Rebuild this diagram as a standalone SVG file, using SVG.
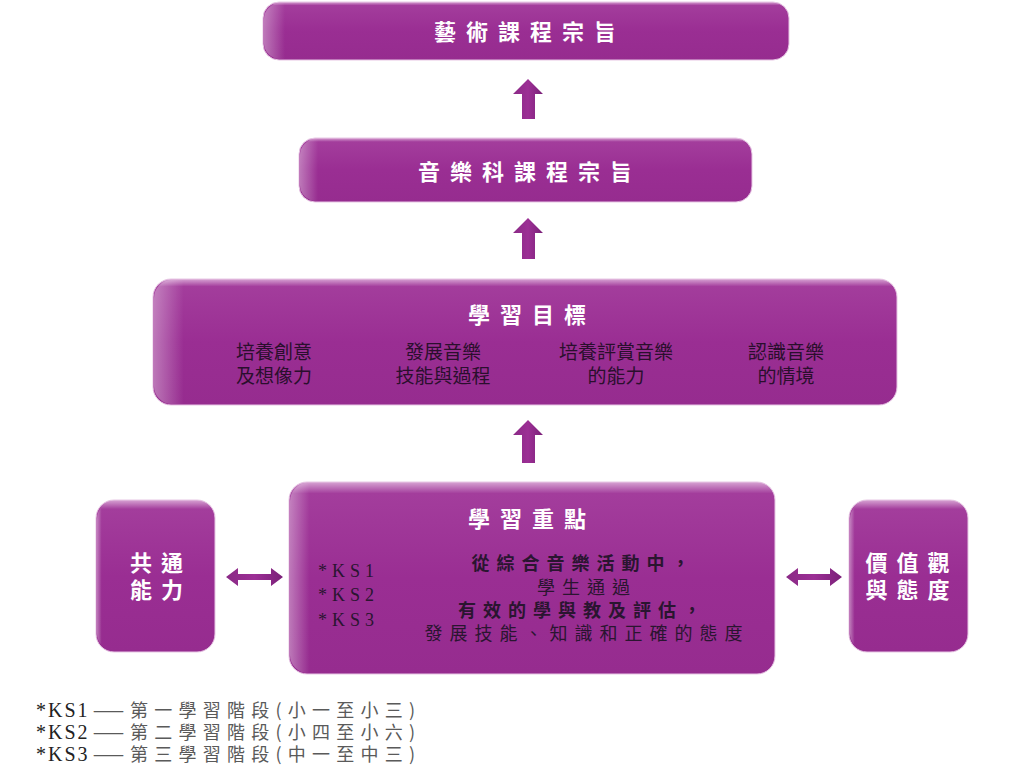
<svg xmlns="http://www.w3.org/2000/svg" width="1024" height="772" viewBox="0 0 1024 772">
<defs>
<linearGradient id="bg" x1="0" y1="0" x2="0" y2="1">
<stop offset="0" stop-color="#d7a3d3"/>
<stop offset="0.06" stop-color="#a33d9c"/>
<stop offset="0.5" stop-color="#9a2e93"/>
<stop offset="1" stop-color="#962c8f"/>
</linearGradient>
<linearGradient id="lg" x1="0" y1="0" x2="1" y2="0">
<stop offset="0" stop-color="#ffffff" stop-opacity="0.35"/>
<stop offset="0.04" stop-color="#ffffff" stop-opacity="0"/>
<stop offset="1" stop-color="#ffffff" stop-opacity="0"/>
</linearGradient>
<linearGradient id="ag" x1="0" y1="0" x2="1" y2="0">
<stop offset="0" stop-color="#8a2a86"/>
<stop offset="0.5" stop-color="#9c2f95"/>
<stop offset="1" stop-color="#7a2078"/>
</linearGradient>
<style>
.box{fill:url(#bg);stroke:#e7c6e4;stroke-width:1}
.hl{fill:url(#lg)}
.t{font-family:"Noto Sans CJK TC","Noto Sans CJK SC",sans-serif;fill:#ffffff;font-weight:bold;text-anchor:middle;font-size:22px;letter-spacing:10px}
.s{font-family:"Noto Sans CJK TC","Noto Sans CJK SC",sans-serif;fill:#ffffff;font-weight:bold;text-anchor:middle;font-size:22px;letter-spacing:9px}
.g{font-family:"Noto Sans CJK TC","Noto Sans CJK SC",sans-serif;fill:#2a0f2d;font-size:19px;text-anchor:middle}
.b{font-family:"Noto Sans CJK TC","Noto Sans CJK SC",sans-serif;fill:#2a1530;font-size:18px;text-anchor:middle;letter-spacing:7px}
.ks{font-family:"Liberation Serif",serif;fill:#2a1530;font-size:18px;letter-spacing:5px}
.f{font-family:"Noto Sans CJK TC","Noto Sans CJK SC",sans-serif;fill:#5a5a5a;font-size:18px}
.fk{font-family:"Liberation Serif",serif;fill:#222222;font-size:20px;letter-spacing:2px}
.arr{fill:url(#ag)}
</style>
</defs>

<g id="node-arts">
<rect class="box" x="263" y="2" width="526" height="58" rx="16"/>
<rect class="hl" x="264" y="3" width="524" height="56" rx="16"/>
<text class="t" x="530" y="40">藝術課程宗旨</text>
</g>

<g id="node-music">
<rect class="box" x="299" y="138" width="453" height="64" rx="16"/>
<rect class="hl" x="300" y="139" width="451" height="62" rx="16"/>
<text class="t" x="530" y="180">音樂科課程宗旨</text>
</g>

<g id="node-goals">
<rect class="box" x="153" y="279" width="744" height="126" rx="18"/>
<rect class="hl" x="154" y="280" width="742" height="124" rx="18"/>
<text class="t" x="532" y="323">學習目標</text>
<text class="g" x="274" y="359">培養創意</text>
<text class="g" x="274" y="383">及想像力</text>
<text class="g" x="443" y="359">發展音樂</text>
<text class="g" x="443" y="383">技能與過程</text>
<text class="g" x="616" y="359">培養評賞音樂</text>
<text class="g" x="616" y="383">的能力</text>
<text class="g" x="786" y="359">認識音樂</text>
<text class="g" x="786" y="383">的情境</text>
</g>

<g id="node-focus">
<rect class="box" x="289" y="482" width="486" height="192" rx="18"/>
<rect class="hl" x="290" y="483" width="484" height="190" rx="18"/>
<text class="t" x="532" y="527">學習重點</text>
<text class="ks" x="318" y="577">*KS1</text>
<text class="ks" x="318" y="601">*KS2</text>
<text class="ks" x="318" y="626">*KS3</text>
<text class="b" x="584" y="570" font-weight="bold">從綜合音樂活動中，</text>
<text class="b" x="587" y="594">學生通過</text>
<text class="b" x="583" y="617" font-weight="bold">有效的學與教及評估，</text>
<text class="b" x="587" y="640">發展技能、知識和正確的態度</text>
</g>

<g id="node-generic">
<rect class="box" x="96" y="500" width="119" height="152" rx="18"/>
<rect class="hl" x="97" y="501" width="117" height="150" rx="18"/>
<text class="s" x="161" y="571">共通</text>
<text class="s" x="161" y="598">能力</text>
</g>

<g id="node-values">
<rect class="box" x="849" y="500" width="119" height="152" rx="18"/>
<rect class="hl" x="850" y="501" width="117" height="150" rx="18"/>
<text class="s" x="912" y="571">價值觀</text>
<text class="s" x="912" y="598">與態度</text>
</g>

<g id="connectors">
<path class="arr" d="M528 79 L543 94 L535 94 L535 119 L522 119 L522 94 L513 94 Z"/>
<path class="arr" d="M528 218 L543 233 L535 233 L535 259 L522 259 L522 233 L513 233 Z"/>
<path class="arr" d="M528 420 L543 435 L535 435 L535 463 L522 463 L522 435 L513 435 Z"/>
<path class="arr" d="M226 577 L238 568 L238 574 L271 574 L271 568 L283 577 L271 586 L271 580 L238 580 L238 586 Z"/>
<path class="arr" d="M786 577 L798 568 L798 574 L830 574 L830 568 L842 577 L830 586 L830 580 L798 580 L798 586 Z"/>
</g>

<g id="legend">
<text class="fk" x="36" y="717">*KS1</text>
<text class="f" x="92" y="717" textLength="33" lengthAdjust="spacingAndGlyphs">—</text>
<text class="f" x="130" y="717" textLength="285" lengthAdjust="spacing">第一學習階段(小一至小三)</text>
<text class="fk" x="36" y="739">*KS2</text>
<text class="f" x="92" y="739" textLength="33" lengthAdjust="spacingAndGlyphs">—</text>
<text class="f" x="130" y="739" textLength="285" lengthAdjust="spacing">第二學習階段(小四至小六)</text>
<text class="fk" x="36" y="761">*KS3</text>
<text class="f" x="92" y="761" textLength="33" lengthAdjust="spacingAndGlyphs">—</text>
<text class="f" x="130" y="761" textLength="285" lengthAdjust="spacing">第三學習階段(中一至中三)</text>
</g>
</svg>
